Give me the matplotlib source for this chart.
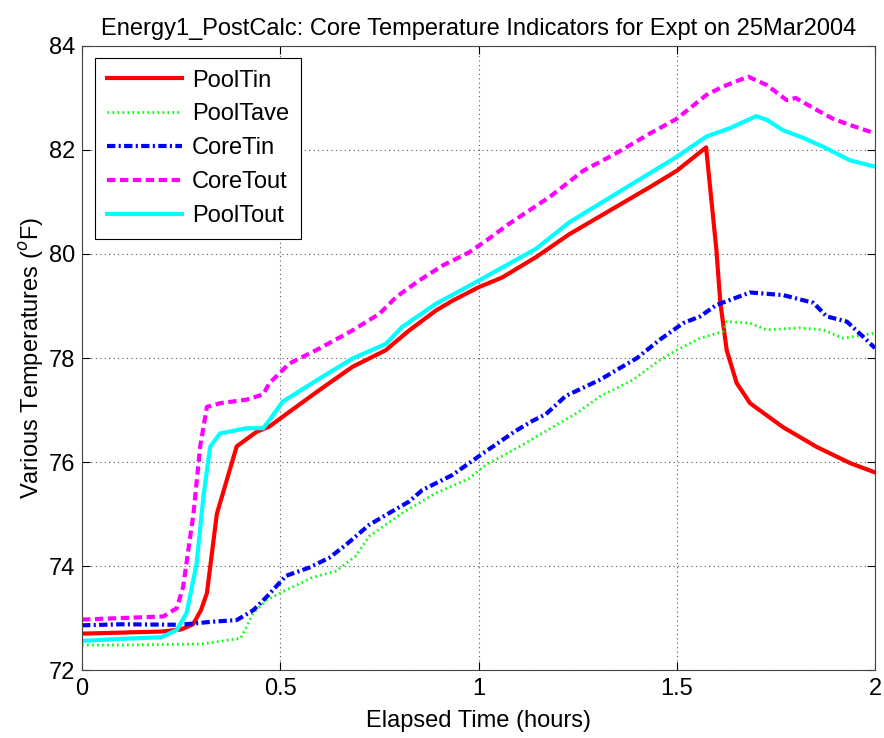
import matplotlib
matplotlib.use("Agg")
import matplotlib.pyplot as plt

plt.rcParams['font.family'] = ['Liberation Sans', 'DejaVu Sans']

# PoolTin (red, solid)
pooltin_t = [0.0, 0.10, 0.20, 0.25, 0.28, 0.30, 0.315, 0.34, 0.365, 0.39, 0.44, 0.472, 0.522,
             0.598, 0.682, 0.766, 0.825, 0.892, 0.934, 1.0, 1.06, 1.145, 1.229, 1.433, 1.5, 1.574,
             1.60, 1.61, 1.626, 1.651, 1.685, 1.768, 1.853, 1.937, 2.0]
pooltin_v = [72.70, 72.72, 72.74, 72.78, 72.88, 73.15, 73.48, 75.0, 75.65, 76.3, 76.58, 76.68, 76.96,
             77.38, 77.83, 78.15, 78.53, 78.91, 79.1, 79.36, 79.55, 79.94, 80.38, 81.29, 81.6, 82.05,
             80.08, 79.06, 78.15, 77.52, 77.13, 76.67, 76.29, 75.98, 75.8]

# PoolTave (green, dotted)
pooltave_t = [0.0, 0.10, 0.20, 0.30, 0.40, 0.415, 0.432, 0.466, 0.5, 0.581, 0.64, 0.69, 0.724,
              0.808, 0.892, 0.976, 1.018, 1.102, 1.187, 1.248, 1.306, 1.39, 1.457, 1.5, 1.559, 1.617,
              1.626, 1.685, 1.727, 1.81, 1.87, 1.92, 1.97, 2.0]
pooltave_v = [72.48, 72.48, 72.49, 72.50, 72.61, 72.83, 73.10, 73.35, 73.48, 73.78, 73.90, 74.19, 74.57,
              75.02, 75.40, 75.68, 75.94, 76.29, 76.67, 76.94, 77.26, 77.58, 77.96, 78.15, 78.38, 78.51,
              78.70, 78.67, 78.54, 78.58, 78.54, 78.38, 78.44, 78.48]

# CoreTin (blue, dash-dot)
coretin_t = [0.0, 0.10, 0.247, 0.33, 0.39, 0.432, 0.466, 0.514, 0.573, 0.624, 0.666, 0.724, 0.775,
             0.825, 0.858, 0.934, 1.01, 1.094, 1.136, 1.17, 1.22, 1.306, 1.40, 1.457, 1.516, 1.559,
             1.60, 1.685, 1.768, 1.845, 1.878, 1.929, 1.97, 2.0]
coretin_v = [72.86, 72.88, 72.87, 72.93, 72.96, 73.15, 73.41, 73.81, 73.97, 74.16, 74.41, 74.79, 75.02,
             75.24, 75.46, 75.75, 76.16, 76.60, 76.79, 76.92, 77.27, 77.58, 78.0, 78.35, 78.67, 78.80,
             79.02, 79.26, 79.21, 79.06, 78.80, 78.70, 78.41, 78.19]

# CoreTout (magenta, dashed)
coretout_t = [0.0, 0.10, 0.205, 0.239, 0.255, 0.281, 0.298, 0.315, 0.348, 0.415, 0.457, 0.472, 0.522,
              0.598, 0.682, 0.75, 0.792, 0.85, 0.91, 0.976, 1.02, 1.077, 1.18, 1.264, 1.348, 1.433,
              1.5, 1.575, 1.617, 1.68, 1.727, 1.777, 1.80, 1.853, 1.894, 1.937, 2.0]
coretout_v = [72.97, 73.0, 73.03, 73.19, 73.6, 75.0, 76.3, 77.06, 77.13, 77.2, 77.3, 77.51, 77.89,
              78.18, 78.53, 78.85, 79.17, 79.49, 79.78, 80.03, 80.26, 80.58, 81.1, 81.6, 81.94, 82.32,
              82.6, 83.06, 83.22, 83.41, 83.25, 82.96, 83.0, 82.77, 82.6, 82.48, 82.32]

# PoolTout (cyan, solid)
pooltout_t = [0.0, 0.10, 0.20, 0.239, 0.264, 0.289, 0.306, 0.323, 0.348, 0.415, 0.457, 0.472, 0.506,
              0.598, 0.682, 0.766, 0.808, 0.892, 0.977, 1.06, 1.145, 1.229, 1.5, 1.575, 1.634, 1.70,
              1.727, 1.768, 1.82, 1.87, 1.937, 2.0]
pooltout_v = [72.56, 72.60, 72.63, 72.77, 73.1, 74.05, 75.33, 76.29, 76.55, 76.65, 76.65, 76.8, 77.16,
              77.6, 77.99, 78.27, 78.6, 79.04, 79.39, 79.74, 80.1, 80.61, 81.87, 82.26, 82.42, 82.65,
              82.58, 82.38, 82.23, 82.06, 81.8, 81.68]

FS = 17

fig = plt.figure(figsize=(8.84, 7.38), dpi=100)
ax = fig.add_axes([0.0928, 0.0921, 0.897, 0.8456])

ax.plot(pooltin_t, pooltin_v, color='#ff0000', lw=3.0, ls='-', label='PoolTin')
ax.plot(pooltave_t, pooltave_v, color='#00ff00', lw=2.0, ls=(0, (0.6, 1.2)), label='PoolTave')
ax.plot(coretin_t, coretin_v, color='#0000ff', lw=3.0, ls=(0, (2.0, 0.8, 0.5, 0.8)), label='CoreTin')
ax.plot(coretout_t, coretout_v, color='#ff00ff', lw=3.0, ls=(0, (2.0, 1.1)), label='CoreTout')
ax.plot(pooltout_t, pooltout_v, color='#00ffff', lw=3.0, ls='-', label='PoolTout')

ax.set_xlim(0, 2)
ax.set_ylim(72, 84)
ax.set_xticks([0, 0.5, 1, 1.5, 2])
ax.set_xticklabels(['0', '0.5', '1', '1.5', '2'])
ax.set_yticks([72, 74, 76, 78, 80, 82, 84])
ax.grid(True, color='#555555', ls=(0, (1, 3)), lw=0.8)
ax.tick_params(direction='in', top=True, right=True, labelsize=FS, length=6, pad=5)
ax.tick_params(axis='x', pad=6)
for s in ax.spines.values():
    s.set_color('#444444')

ax.set_title('Energy1_PostCalc: Core Temperature Indicators for Expt on 25Mar2004', fontsize=FS, pad=8)
ax.set_xlabel('Elapsed Time (hours)', fontsize=FS, labelpad=7)
ax.set_ylabel('Various Temperatures ($^o$F)', fontsize=FS, labelpad=2)

leg = ax.legend(loc='upper left', fontsize=FS, fancybox=False, framealpha=1, edgecolor='black',
                handlelength=3.2, handletextpad=0.4, borderpad=0.5, labelspacing=0.5,
                borderaxespad=0.0, bbox_to_anchor=(0.0164, 0.981))
leg.get_frame().set_linewidth(0.8)

fig.savefig('out.png', dpi=100)
